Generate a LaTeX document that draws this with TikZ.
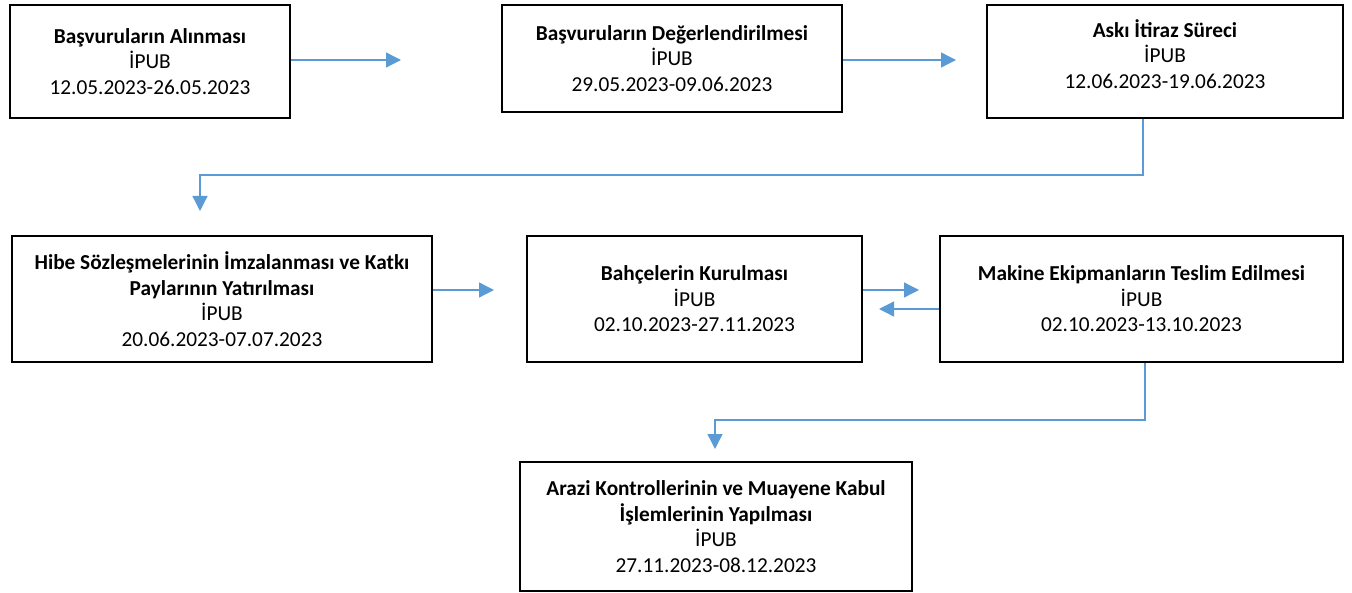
\documentclass[tikz,border=0pt]{standalone}
\usepackage{fontspec}
\setmainfont{Carlito}
\usetikzlibrary{arrows.meta}

\definecolor{flowblue}{RGB}{91,155,213}

\begin{document}
\begin{tikzpicture}[x=1pt, y=-1pt,
    box/.style={draw, line width=2.2pt, align=center, inner sep=0pt,
        font=\fontsize{21.3}{25.5}\selectfont},
    flow/.style={draw=flowblue, line width=1.3pt,
        -{Triangle[length=15pt, width=15pt, fill=flowblue]}}]
    \useasboundingbox (0,0) rectangle (1352,593);

    \node[box, minimum width=280pt, minimum height=113pt] (alinma) at (150,61.5)
        {\textbf{Başvuruların Alınması}\\İPUB\\12.05.2023-26.05.2023};
    \node[box, minimum width=340pt, minimum height=107pt] (degerlendirme) at (672,58.5)
        {\textbf{Başvuruların Değerlendirilmesi}\\İPUB\\29.05.2023-09.06.2023};
    \node[box, minimum width=356pt, minimum height=113pt, text depth=15pt] (aski) at (1165,61.5)
        {\textbf{Askı İtiraz Süreci}\\İPUB\\12.06.2023-19.06.2023};
    \node[box, minimum width=420pt, minimum height=126pt] (sozlesme) at (222,299)
        {\textbf{Hibe Sözleşmelerinin İmzalanması ve Katkı}\\\textbf{Paylarının Yatırılması}\\İPUB\\20.06.2023-07.07.2023};
    \node[box, minimum width=335pt, minimum height=126pt] (bahce) at (694.5,299)
        {\textbf{Bahçelerin Kurulması}\\İPUB\\02.10.2023-27.11.2023};
    \node[box, minimum width=403pt, minimum height=126pt] (makine) at (1141.5,299)
        {\textbf{Makine Ekipmanların Teslim Edilmesi}\\İPUB\\02.10.2023-13.10.2023};
    \node[box, minimum width=392pt, minimum height=129pt] (kontrol) at (716,526.5)
        {\textbf{Arazi Kontrollerinin ve Muayene Kabul}\\\textbf{İşlemlerinin Yapılması}\\İPUB\\27.11.2023-08.12.2023};

    \coordinate (ucA) at (401,60);
    \coordinate (ucB) at (956,60);
    \coordinate (ucC) at (200,211);
    \coordinate (ucD) at (494,290);
    \coordinate (ucE) at (919,290);
    \coordinate (ucF) at (879,309);
    \coordinate (ucG) at (715,449);

    \draw[flow] (alinma.east |- ucA) -- (ucA);
    \draw[flow] (degerlendirme.east |- ucB) -- (ucB);
    \draw[flow] ([xshift=-22pt]aski.south) |- (1143,175) -| (ucC);
    \draw[flow] (sozlesme.east |- ucD) -- (ucD);
    \draw[flow] (bahce.east |- ucE) -- (ucE);
    \draw[flow] (makine.west |- ucF) -- (ucF);
    \draw[flow] ([xshift=3.5pt]makine.south) |- (1145,420) -| (ucG);
\end{tikzpicture}
\end{document}
